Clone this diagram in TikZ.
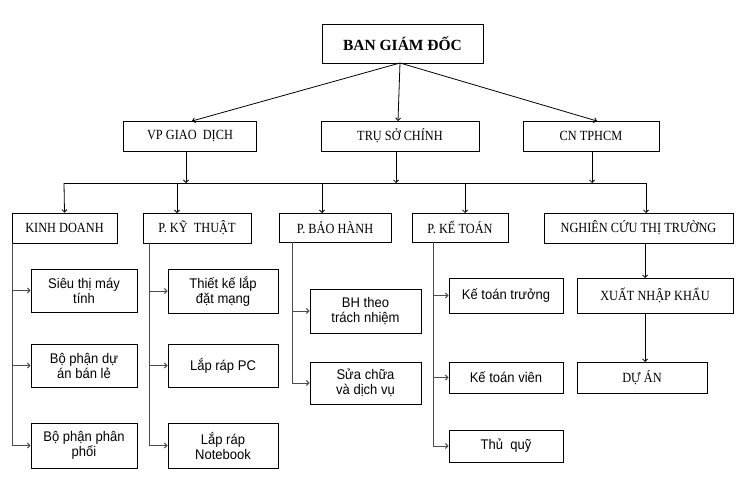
\documentclass[tikz,border=0pt]{standalone}
\usepackage{fontspec}
\setmainfont[FakeStretch=0.88]{Liberation Serif}
\newfontfamily\bossf{Liberation Serif}
\newfontfamily\arialf[FakeStretch=0.93]{Liberation Sans}
\usetikzlibrary{arrows.meta}
\begin{document}
\begin{tikzpicture}[x=1pt,y=-1pt,
  box/.style={draw=black,line width=0.8pt,inner sep=0pt,align=center,font=\fontsize{14}{15}\selectfont},
  sbox/.style={box,font=\arialf\fontsize{14}{15}\selectfont},
  ln/.style={draw=black,line width=0.8pt},
  arr/.style={ln,-{Straight Barb[length=2.5pt,width=5pt]}},
  br/.style={draw=black!70,line width=1pt,-{Straight Barb[length=2.5pt,width=5pt]}},
  tr/.style={draw=black!70,line width=1pt}]
\useasboundingbox (0,0) rectangle (737,498);
% top
\node[box,font=\bossf\bfseries\fontsize{15.5}{17}\selectfont,minimum width=161,minimum height=39] (bgd) at (402.5,43.5) {BAN GIÁM ĐỐC};
\coordinate (bgdb) at (400,63);
% row 1
\node[box,minimum width=133,minimum height=30] (vp) at (190,136) {VP GIAO~~DỊCH};
\node[box,minimum width=158,minimum height=30] (tru) at (400,136) {TRỤ SỞ CHÍNH};
\node[box,minimum width=136,minimum height=30] (cn) at (591,136) {CN TPHCM};
\draw[arr] (bgdb) -- (192,121) coordinate (vpin);
\draw[arr] (bgdb) -- (398,121) coordinate (truin);
\draw[arr] (bgdb) -- (597,121) coordinate (cnin);
% bus
\coordinate (busL) at (64,183);
\coordinate (busR) at (646,183);
\draw[ln] (busL) -- (busR);
\draw[arr] (186,151) -- (186,183);
\draw[arr] (396,151) -- (396,183);
\draw[arr] (592,151) -- (592,183);
% row 2
\node[box,minimum width=105,minimum height=30] (kd) at (64.5,228) {KINH DOANH};
\node[box,minimum width=108,minimum height=30] (kt) at (197,228) {P. KỸ~~THUẬT};
\node[box,minimum width=112,minimum height=29] (bh) at (335,227.5) {P. BẢO HÀNH};
\node[box,minimum width=96,minimum height=29] (kto) at (460,227.5) {P. KẾ TOÁN};
\node[box,minimum width=189,minimum height=30] (nc) at (638.5,228) {NGHIÊN CỨU THỊ TRƯỜNG};
\draw[arr] (busL) -- (kd.north);
\draw[arr] (177,183) -- (177,213);
\draw[arr] (322,183) -- (322,213);
\draw[arr] (465,183) -- (465,213);
\draw[arr] (busR) -- (646,213);
% row 3: kinh doanh
\node[sbox,minimum width=106,minimum height=43] (st) at (84,290.5) {Siêu thị máy\\tính};
\node[sbox,minimum width=106,minimum height=43] (bpd) at (84,365.5) {Bộ phận dự\\án bán lẻ};
\node[sbox,minimum width=106,minimum height=45] (bpp) at (84,445.5) {Bộ phận phân\\phối};
\coordinate (kdt) at (12,243);
\draw[br] (kdt) |- (st.west);
\draw[br] (kdt) |- (bpd.west);
\draw[br] (kdt) |- (bpp.west);
% ky thuat
\node[sbox,minimum width=110,minimum height=44] (tk) at (223,291) {Thiết kế lắp\\đặt mạng};
\node[sbox,minimum width=110,minimum height=43] (pc) at (223,365.5) {Lắp ráp PC};
\node[sbox,minimum width=110,minimum height=45] (nb) at (223,445.5) {Lắp ráp\\Notebook};
\coordinate (ktt) at (149,243);
\draw[br] (ktt) |- (tk.west);
\draw[br] (ktt) |- (pc.west);
\draw[br] (ktt) |- (nb.west);
% bao hanh
\node[sbox,minimum width=111,minimum height=44] (bht) at (365.5,311) {BH theo\\trách nhiệm};
\node[sbox,minimum width=111,minimum height=42] (sc) at (365.5,383) {Sửa chữa\\và dịch vụ};
\coordinate (bhtr) at (292,242);
\draw[br] (bhtr) |- (bht.west);
\draw[br] (bhtr) |- (sc.west);
% ke toan
\node[sbox,minimum width=114,minimum height=35] (ktr) at (506,295.5) {Kế toán trưởng};
\node[sbox,minimum width=114,minimum height=31] (ktv) at (506,377.5) {Kế toán viên};
\node[sbox,minimum width=114,minimum height=32] (tq) at (506,446) {Thủ~~quỹ};
\coordinate (ktot) at (433,242);
\draw[br] (ktot) |- (ktr.west);
\draw[br] (ktot) |- (ktv.west);
\draw[br] (ktot) |- (tq.west);
% nghien cuu
\node[box,minimum width=156,minimum height=35] (xnk) at (655,295.5) {XUẤT NHẬP KHẨU};
\node[box,minimum width=130,minimum height=31] (da) at (642,377.5) {DỰ ÁN};
\draw[arr] (645,243) -- (645,278);
\draw[arr] (645,313) -- (645,362);
\end{tikzpicture}
\end{document}
